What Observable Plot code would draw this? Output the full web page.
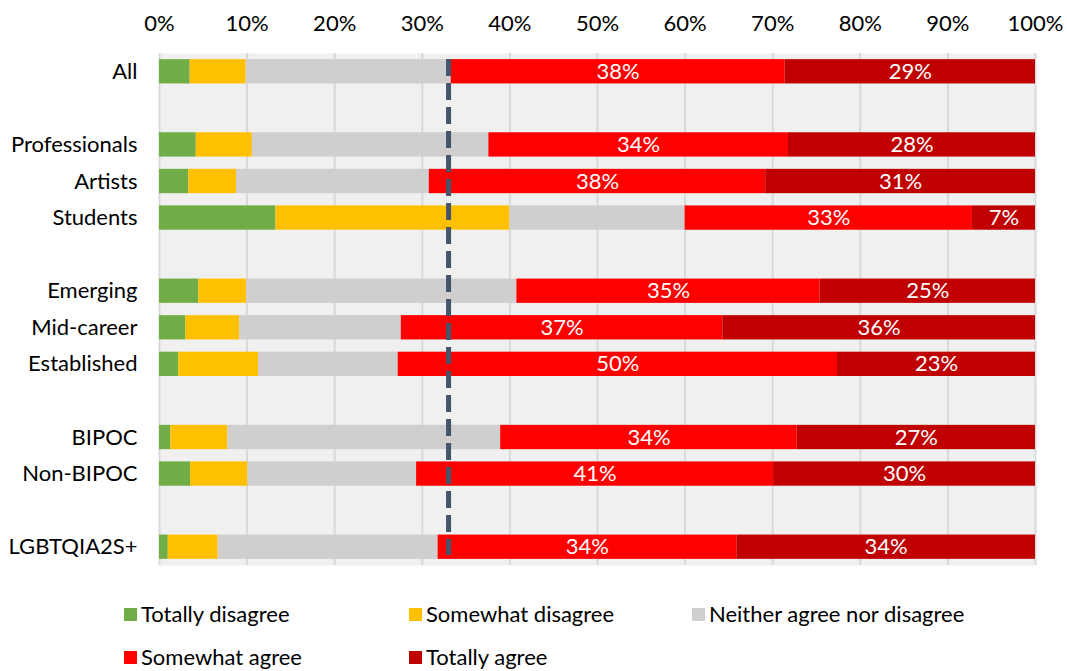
<!DOCTYPE html>
<html><head><meta charset="utf-8">
<script src="https://cdn.jsdelivr.net/npm/d3@7"></script>
<script src="https://cdn.jsdelivr.net/npm/@observablehq/plot@0.6"></script>
<style>
body{margin:0;background:#fff;font-family:Lato,sans-serif;}
#chart svg{display:block;}
#legend{position:relative;width:1067px;height:91px;}
.item{position:absolute;display:flex;align-items:center;font-size:22px;color:#000;white-space:nowrap;line-height:28px;}
.sw{width:13px;height:13px;margin-right:4px;}
</style></head><body>
<div id="chart"></div>
<div id="legend"></div>
<script>
const rows = ["All","_1","Professionals","Artists","Students","_2","Emerging","Mid-career","Established","_3","BIPOC","Non-BIPOC","_4","LGBTQIA2S+"];
const groups = ["All","Professionals","Artists","Students","Emerging","Mid-career","Established","BIPOC","Non-BIPOC","LGBTQIA2S+"];
const categories = ["Totally disagree","Somewhat disagree","Neither agree nor disagree","Somewhat agree","Totally agree"];
const colors = ["#70AD47","#FFC000","#D0CECE","#FF0000","#C00000"];
const totallyDisagree  = [3.5, 4.2, 3.35, 13.3, 4.5, 3.0, 2.2, 1.3, 3.55, 1.0];
const somewhatDisagree = [6.4, 6.4, 5.45, 26.7, 5.45, 6.15, 9.1, 6.5, 6.55, 5.7];
const neither          = [23.4, 27.0, 22.0, 20.0, 30.85, 18.45, 15.95, 31.15, 19.25, 25.1];
const somewhatAgree    = [38.1, 34.2, 38.4, 32.8, 34.6, 36.7, 50.15, 33.85, 40.75, 34.1];
const totallyAgree     = [28.6, 28.2, 30.8, 7.2, 24.6, 35.7, 22.6, 27.2, 29.9, 34.1];
const xTicks = [0,10,20,30,40,50,60,70,80,90,100];
const benchmark = 33;

const series = [totallyDisagree, somewhatDisagree, neither, somewhatAgree, totallyAgree];
const data = [];
groups.forEach((g, i) => {
  categories.forEach((c, k) => {
    const v = series[k][i];
    data.push({group: g, category: c, value: v, label: k >= 3 ? Math.round(v) + "%" : ""});
  });
});

const chart = Plot.plot({
  width: 1067,
  height: 580,
  marginTop: 53,
  marginBottom: 15,
  marginLeft: 159,
  marginRight: 32,
  style: {fontFamily: 'Lato, sans-serif', fontSize: "22px", color: "#000", background: "#fff"},
  x: {domain: [0, 100], ticks: xTicks, tickFormat: d => d + "%", axis: "top", tickSize: 0, tickPadding: 23, label: null},
  y: {domain: rows, paddingInner: 0.335, paddingOuter: 0.1675, round: false, tickSize: 0, tickPadding: 22, tickFormat: d => d.startsWith("_") ? "" : d, label: null},
  color: {domain: categories, range: colors},
  marks: [
    Plot.frame({fill: "#F0F0F0", stroke: null}),
    Plot.ruleX(xTicks, {stroke: "#D9D9D9", strokeWidth: 2}),
    Plot.barX(data, Plot.stackX({y: "group", x: "value", fill: "category", order: null})),
    Plot.text(data, Plot.stackX({y: "group", x: "value", text: "label", order: null, fill: "white", fontSize: 22})),
    Plot.ruleX([benchmark], {stroke: "#44546A", strokeWidth: 5, strokeDasharray: "17,7", insetTop: 6, insetBottom: 10})
  ]
});
document.getElementById("chart").appendChild(chart);

const legendPos = [[124, 34], [409, 34], [692, 34], [124, 77], [409, 77]];
const leg = document.getElementById("legend");
categories.forEach((c, k) => {
  const it = document.createElement("div");
  it.className = "item";
  it.style.left = legendPos[k][0] + "px";
  it.style.top = (legendPos[k][1] - 14) + "px";
  it.innerHTML = `<span class="sw" style="background:${colors[k]}"></span><span>${c}</span>`;
  leg.appendChild(it);
});
</script>
</body></html>
